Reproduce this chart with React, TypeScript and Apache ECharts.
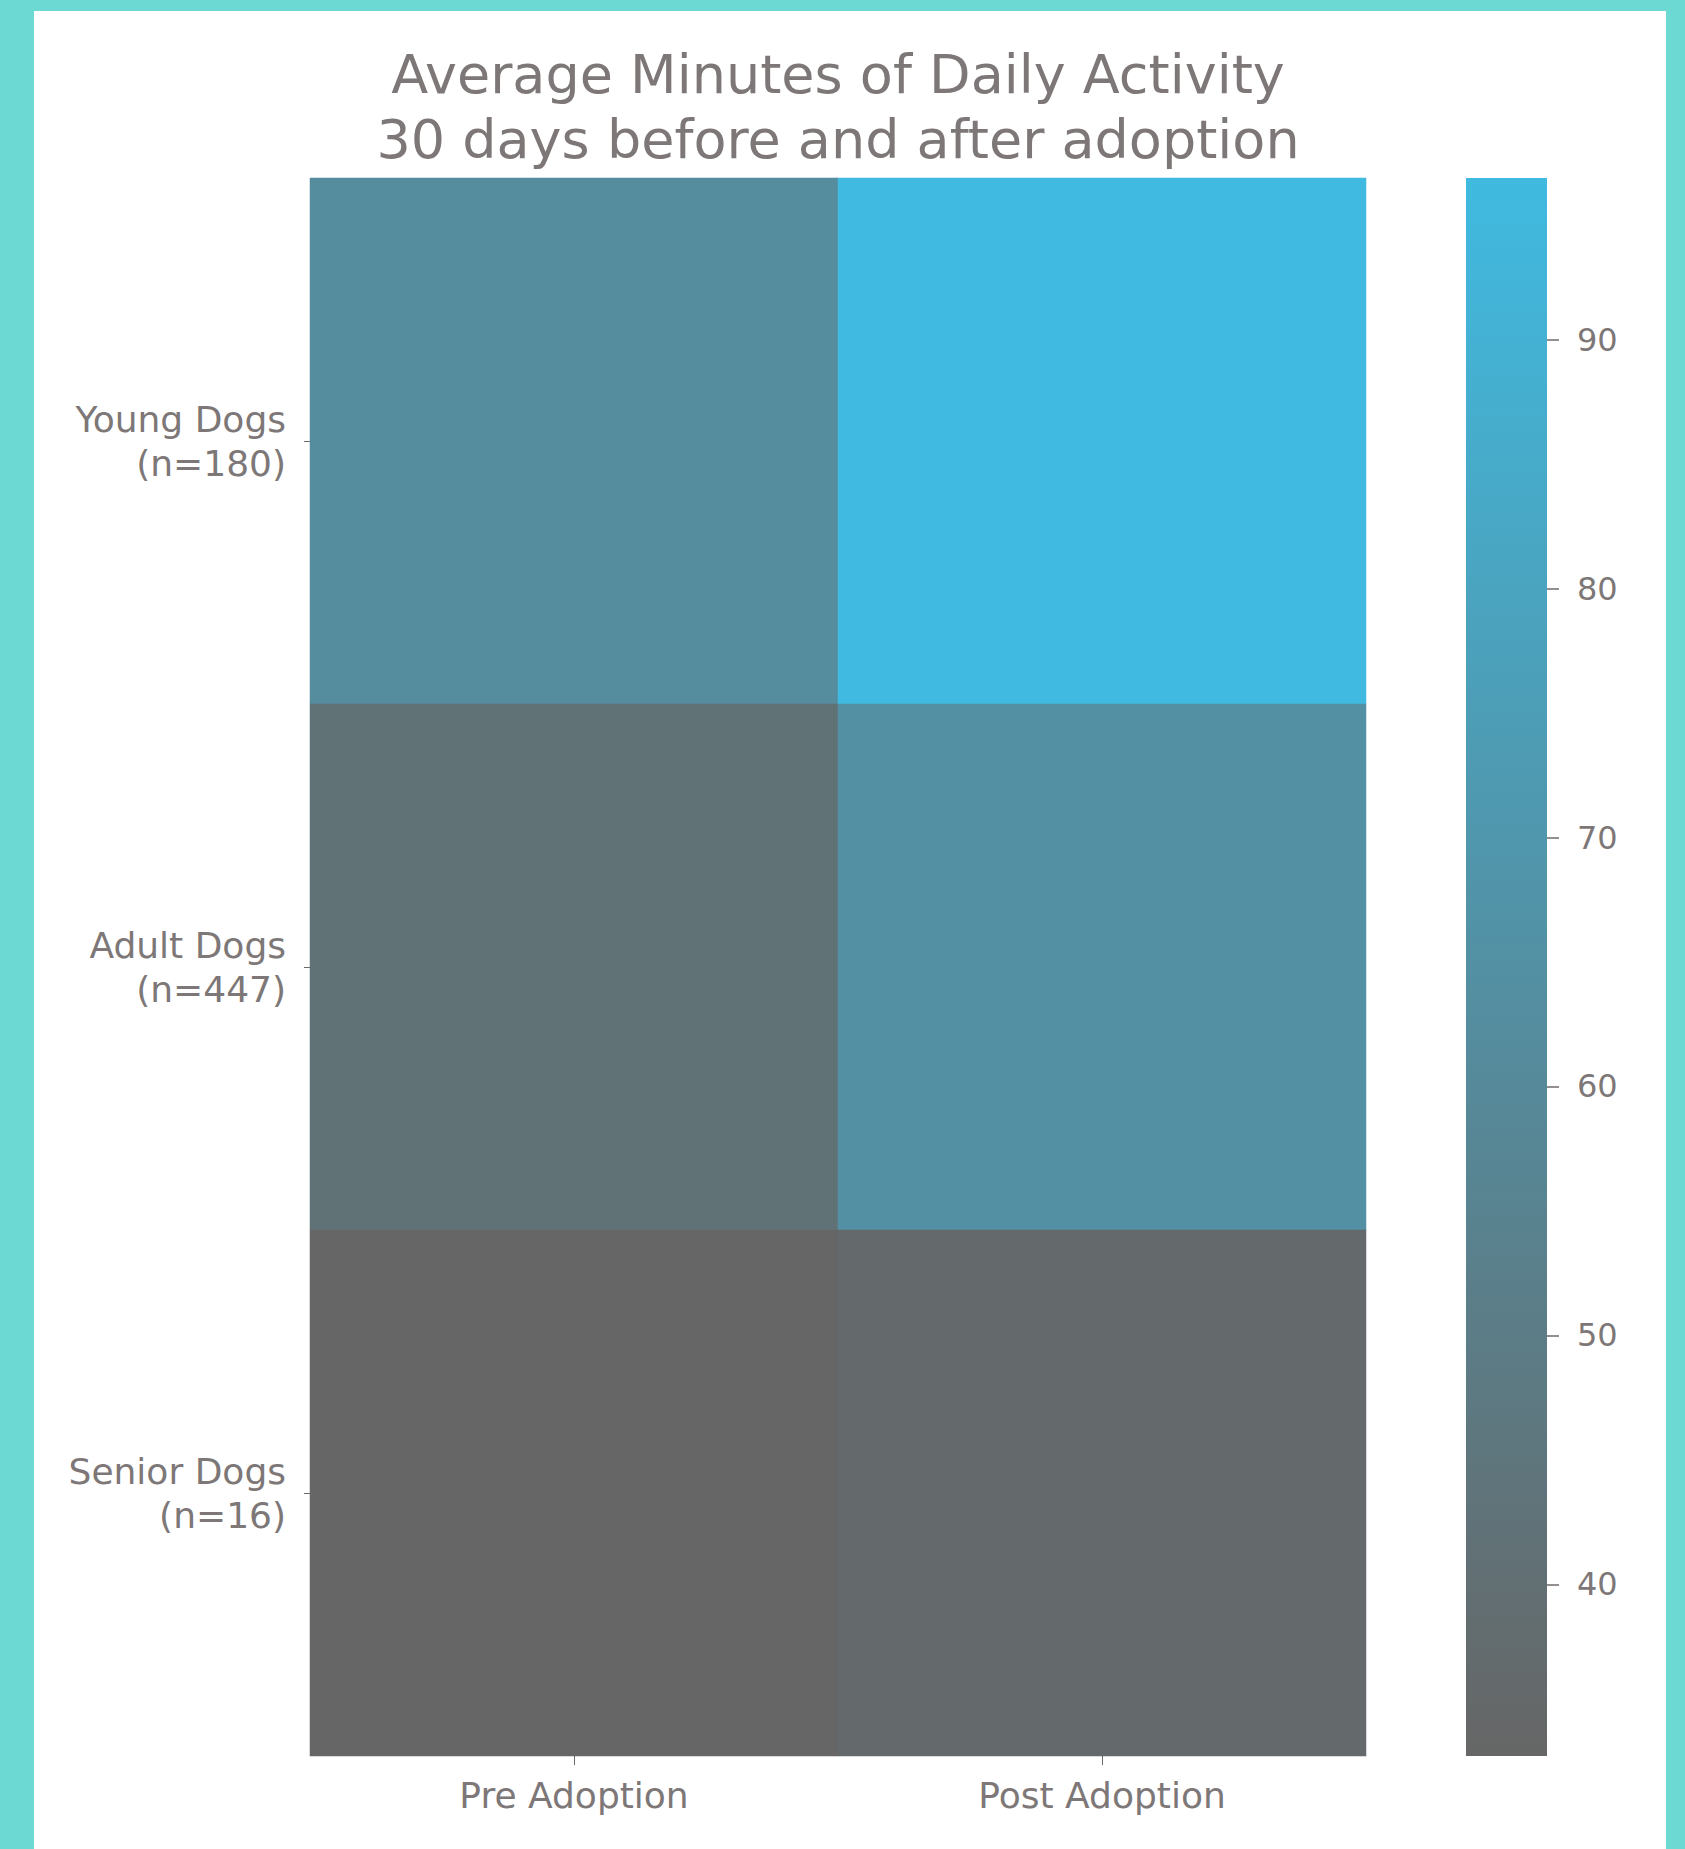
import React, { useEffect, useRef } from "react";
import * as echarts from "echarts";

const TITLE_LINES = ["Average Minutes of Daily Activity", "30 days before and after adoption"];
const PERIODS = ["Pre Adoption", "Post Adoption"];
const GROUPS = ["Young Dogs\n(n=180)", "Adult Dogs\n(n=447)", "Senior Dogs\n(n=16)"];
const PRE_VALUES = [62, 42, 33.1];
const POST_VALUES = [96.5, 65, 36];
const COLORBAR_TICKS = [40, 50, 60, 70, 80, 90];
const VMIN = 33.1;
const VMAX = 96.5;

const FONT = "DejaVu Sans";
const TEXT_COLOR = "#7d7777";
const LOW_COLOR = "#666666";
const HIGH_COLOR = "#40bae0";

export default function App() {
  const ref = useRef<HTMLDivElement>(null);
  useEffect(() => {
    if (!ref.current) return;
    const chart = echarts.init(ref.current, undefined, { renderer: "svg" });
    const data: [number, number, number][] = [];
    GROUPS.forEach((_, yi) => {
      data.push([0, yi, PRE_VALUES[yi]]);
      data.push([1, yi, POST_VALUES[yi]]);
    });
    const gridLeft = 276;
    const gridTop = 167;
    const gridW = 1056;
    const gridH = 1578;
    chart.setOption({
      animation: false,
      backgroundColor: "#ffffff",
      graphic: TITLE_LINES.map((t, i) => ({
        type: "text",
        x: gridLeft + gridW / 2,
        y: 63 + i * 65,
        style: {
          text: t,
          textAlign: "center",
          textVerticalAlign: "middle",
          fontFamily: FONT,
          fontSize: 54,
          fill: TEXT_COLOR,
        },
      })),
      grid: [
        { left: gridLeft, top: gridTop, width: gridW, height: gridH, containLabel: false },
        {
          left: 1432,
          top: gridTop,
          width: 81,
          height: gridH,
          show: true,
          borderWidth: 0,
          backgroundColor: new echarts.graphic.LinearGradient(0, 0, 0, 1, [
            { offset: 0, color: HIGH_COLOR },
            { offset: 1, color: LOW_COLOR },
          ]),
        },
      ],
      xAxis: [
        {
          type: "category",
          gridIndex: 0,
          data: PERIODS,
          position: "bottom",
          axisLine: { show: false },
          axisTick: { show: true, alignWithLabel: true, length: 9, lineStyle: { color: "#6f6a6a" } },
          splitLine: { show: false },
          axisLabel: { color: TEXT_COLOR, fontFamily: FONT, fontSize: 36, margin: 21 },
        },
        {
          type: "category",
          gridIndex: 1,
          show: false,
          data: [""],
        },
      ],
      yAxis: [
        {
          type: "category",
          gridIndex: 0,
          data: GROUPS,
          inverse: true,
          axisLine: { show: false },
          axisTick: { show: true, alignWithLabel: true, length: 6, lineStyle: { color: "#6f6a6a" } },
          splitLine: { show: false },
          axisLabel: {
            color: TEXT_COLOR,
            fontFamily: FONT,
            fontSize: 36,
            lineHeight: 44,
            align: "right",
            margin: 24,
          },
        },
        {
          type: "value",
          gridIndex: 1,
          position: "right",
          min: VMIN,
          max: VMAX,
          axisLine: { show: false, onZero: false },
          splitLine: { show: false },
          axisTick: {
            show: true,
            inside: false,
            length: 12,
            customValues: COLORBAR_TICKS,
            lineStyle: { color: "#6f6a6a", width: 1.5 },
          },
          axisLabel: {
            color: TEXT_COLOR,
            fontFamily: FONT,
            fontSize: 32,
            margin: 30,
            customValues: COLORBAR_TICKS,
          },
        },
      ],
      visualMap: {
        show: false,
        type: "continuous",
        min: VMIN,
        max: VMAX,
        dimension: 2,
        seriesIndex: 0,
        inRange: { color: [LOW_COLOR, HIGH_COLOR] },
      },
      series: [
        {
          type: "heatmap",
          xAxisIndex: 0,
          yAxisIndex: 0,
          data,
          label: { show: false },
          itemStyle: { borderWidth: 0 },
          emphasis: { disabled: true },
        },
      ],
    });
    return () => chart.dispose();
  }, []);
  return (
    <div
      style={{
        position: "fixed",
        left: 0,
        top: 0,
        width: 1685,
        height: 1849,
        background: "#6dd9d3",
      }}
    >
      <div
        ref={ref}
        style={{ position: "absolute", left: 34, top: 11, width: 1632, height: 1838 }}
      />
    </div>
  );
}
